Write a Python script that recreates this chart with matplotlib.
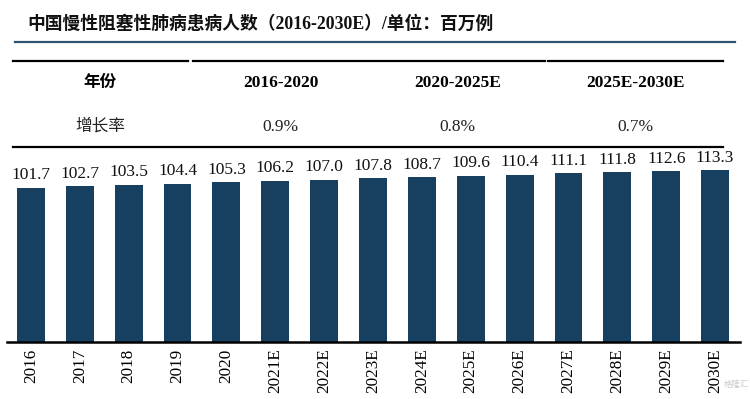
import matplotlib
matplotlib.use("Agg")
import matplotlib.pyplot as plt
from matplotlib.lines import Line2D

years = ['2016', '2017', '2018', '2019', '2020', '2021E', '2022E', '2023E',
         '2024E', '2025E', '2026E', '2027E', '2028E', '2029E', '2030E']
patients = [101.7, 102.7, 103.5, 104.4, 105.3, 106.2, 107.0, 107.8,
            108.7, 109.6, 110.4, 111.1, 111.8, 112.6, 113.3]

periods = ['2016-2020', '2020-2025E', '2025E-2030E']
growth = ['0.9%', '0.8%', '0.7%']

title = '中国慢性阻塞性肺病患病人数（2016-2030E）/单位：百万例'

W, H = 750, 399
serif_cjk = ['Liberation Serif', 'Noto Sans CJK SC']
bar_color = '#173f5f'

fig = plt.figure(figsize=(7.5, 3.99), dpi=100)


def fx(px):
    return px / W


def fy(py):
    return 1 - py / H


# title and rule under it
fig.text(fx(27), fy(24), title, family=serif_cjk, fontweight='bold',
         fontsize=12.8, ha='left', va='center', color='#111111')
fig.add_artist(Line2D([fx(15), fx(735)], [fy(42), fy(42)], color='#2e5272', lw=1.6))

# growth table
col_edges = [(13, 188), (193, 368), (370, 545), (548, 723)]
for x0, x1 in col_edges:
    fig.add_artist(Line2D([fx(x0), fx(x1)], [fy(61), fy(61)], color='black', lw=1.6))
fig.add_artist(Line2D([fx(13), fx(723)], [fy(147), fy(147)], color='black', lw=1.6))

centers = [(a + b) / 2 for a, b in col_edges]
fig.text(fx(centers[0]), fy(83), '年份', family=serif_cjk, fontweight='bold',
         fontsize=12, ha='center', va='center')
fig.text(fx(centers[0]), fy(127), '增长率', family=serif_cjk,
         fontsize=12, ha='center', va='center', color='#222222')
for c, p, g in zip(centers[1:], periods, growth):
    fig.text(fx(c), fy(83), p, family=serif_cjk, fontweight='bold',
             fontsize=12.5, ha='center', va='center')
    fig.text(fx(c), fy(127), g, family=serif_cjk,
             fontsize=12.5, ha='center', va='center', color='#222222')

# bar chart
ax = fig.add_axes([fx(7), 57.3 / H, (740 - 7) / W, 191.7 / H])
x = range(len(years))
bars = ax.bar(x, patients, width=0.57, color=bar_color)
for xi, v in zip(x, patients):
    ax.text(xi, v + 3.0, f'{v:.1f}', ha='center', va='bottom',
            family=serif_cjk, fontsize=12.5, color='#111111')

ax.set_xlim(-0.49, len(years) - 0.49)
ax.set_ylim(0, 126.6)
ax.set_xticks(list(x))
ax.set_xticklabels(years, rotation=90, family=serif_cjk, fontsize=12.3)
ax.tick_params(axis='x', length=0, pad=5)
ax.set_yticks([])
for s in ['top', 'right', 'left']:
    ax.spines[s].set_visible(False)
ax.spines['bottom'].set_linewidth(1.8)

# source watermark
fig.text(fx(749), fy(384), '格隆汇', family=['Noto Sans CJK SC'], fontsize=6,
         ha='right', va='center', color='#bdbdbd', alpha=0.8)

fig.savefig('out.png', dpi=100, facecolor='white')
